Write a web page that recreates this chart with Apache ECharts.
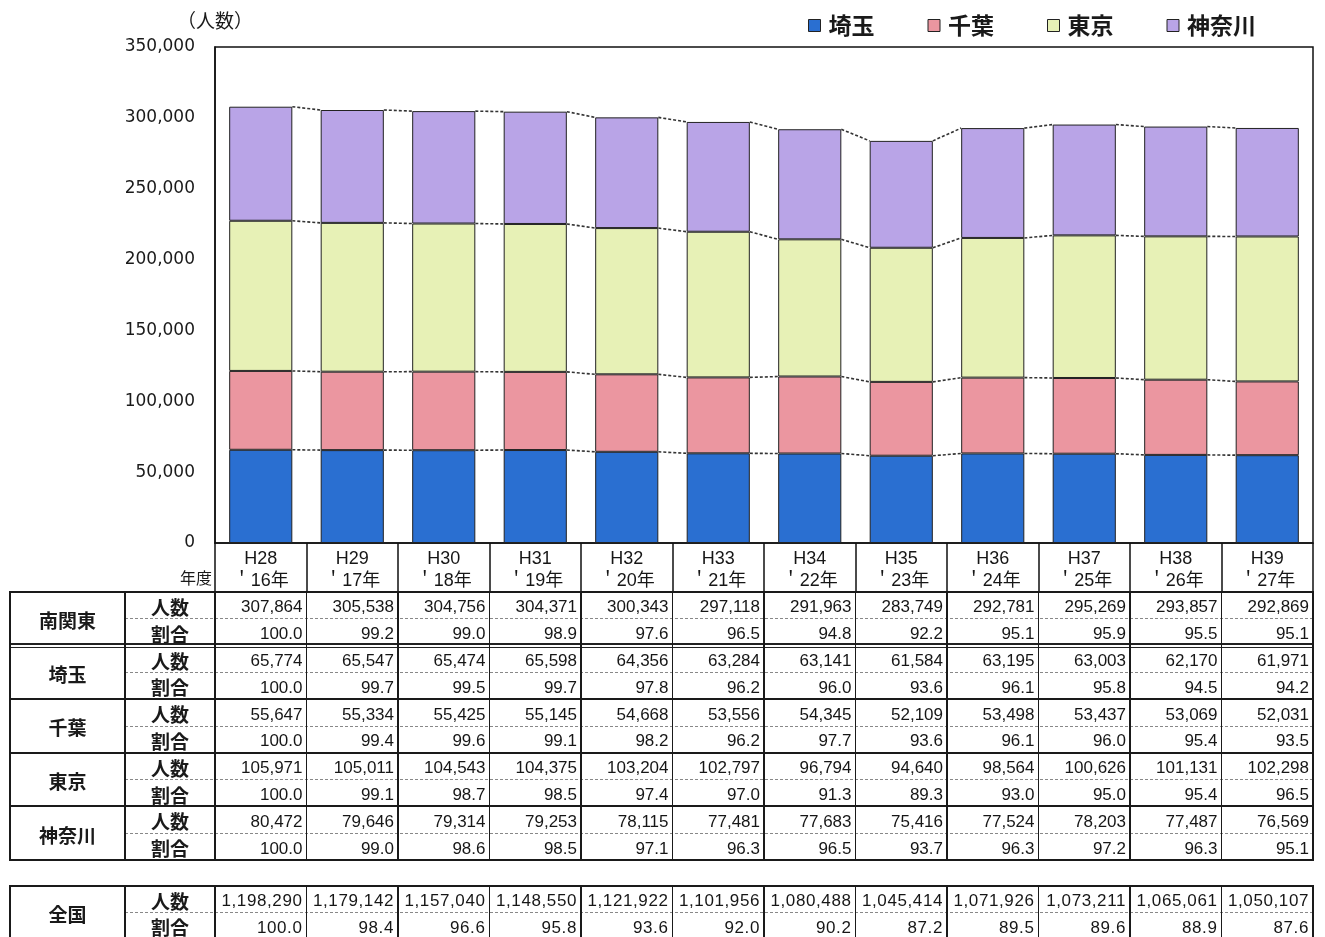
<!DOCTYPE html>
<html><head><meta charset="utf-8">
<script src="https://cdn.jsdelivr.net/npm/echarts@6/dist/echarts.min.js"></script>
<style>
html,body{margin:0;padding:0;background:#fff;width:1325px;height:937px;overflow:hidden;}
#chart{position:absolute;left:0;top:0;width:1325px;height:937px;}
#tbl{position:absolute;left:0;top:0;width:1325px;height:937px;pointer-events:none;}
.c{position:absolute;box-sizing:border-box;display:flex;align-items:center;font-family:"Liberation Sans",Arial,sans-serif;font-size:17px;color:#161616;white-space:nowrap;padding-top:4px;}
.n{justify-content:flex-end;padding-right:4px;}
.j{justify-content:center;font-family:"Noto Sans CJK JP";font-weight:bold;font-size:19px;color:#1a1a1a;padding-top:2px;}
.l{position:absolute;}
</style></head><body>
<div id="chart"></div><div id="tbl"></div>
<script>
// ---- data ----
const years = ['H28','H29','H30','H31','H32','H33','H34','H35','H36','H37','H38','H39'];
const westernYears = ['＇16年','＇17年','＇18年','＇19年','＇20年','＇21年','＇22年','＇23年','＇24年','＇25年','＇26年','＇27年'];
const seriesNames = ['埼玉','千葉','東京','神奈川'];
const saitama = [65774,65547,65474,65598,64356,63284,63141,61584,63195,63003,62170,61971];
const chiba = [55647,55334,55425,55145,54668,53556,54345,52109,53498,53437,53069,52031];
const tokyo = [105971,105011,104543,104375,103204,102797,96794,94640,98564,100626,101131,102298];
const kanagawa = [80472,79646,79314,79253,78115,77481,77683,75416,77524,78203,77487,76569];
const minamiKanto = [307864,305538,304756,304371,300343,297118,291963,283749,292781,295269,293857,292869];
const minamiKantoRatio = [100.0,99.2,99.0,98.9,97.6,96.5,94.8,92.2,95.1,95.9,95.5,95.1];
const saitamaRatio = [100.0,99.7,99.5,99.7,97.8,96.2,96.0,93.6,96.1,95.8,94.5,94.2];
const chibaRatio = [100.0,99.4,99.6,99.1,98.2,96.2,97.7,93.6,96.1,96.0,95.4,93.5];
const tokyoRatio = [100.0,99.1,98.7,98.5,97.4,97.0,91.3,89.3,93.0,95.0,95.4,96.5];
const kanagawaRatio = [100.0,99.0,98.6,98.5,97.1,96.3,96.5,93.7,96.3,97.2,96.3,95.1];
const zenkoku = [1198290,1179142,1157040,1148550,1121922,1101956,1080488,1045414,1071926,1073211,1065061,1050107];
const zenkokuRatio = [100.0,98.4,96.6,95.8,93.6,92.0,90.2,87.2,89.5,89.6,88.9,87.6];
const yTicks = [0,50000,100000,150000,200000,250000,300000,350000];
const rowLabels = ['人数','割合'];
const groupNames = ['南関東','埼玉','千葉','東京','神奈川'];
const colors = ['#2a6fd1','#eb96a0','#e7f1b6','#b9a4e7'];

const stackData = [saitama, chiba, tokyo, kanagawa];
// cumulative tops for series lines
const cum = stackData.map((_, k) => years.map((_, i) => stackData.slice(0, k + 1).reduce((s, a) => s + a[i], 0)));
const connData = [];
for (let i = 0; i < years.length - 1; i++) {
  const row = [i];
  for (let k = 0; k < 4; k++) { row.push(cum[k][i], cum[k][i + 1]); }
  connData.push(row);
}
const BAR_RATIO = 0.69;

const chart = echarts.init(document.getElementById('chart'), null, {renderer: 'canvas'});
const series = seriesNames.map((n, k) => ({
  name: n, type: 'bar', stack: 'all', data: stackData[k],
  barCategoryGap: '31%',
  itemStyle: {color: colors[k], borderColor: '#222', borderWidth: 1}
}));
series.push({
  type: 'custom', name: 'lines', silent: true, z: 5,
  data: connData, encode: {x: 0, y: 1},
  renderItem: function (params, api) {
    const i = api.value(0);
    const band = api.size([1, 0])[0];
    const half = band * BAR_RATIO / 2;
    const children = [];
    for (let k = 0; k < 4; k++) {
      const a = api.coord([i, api.value(1 + 2 * k)]);
      const b = api.coord([i + 1, api.value(2 + 2 * k)]);
      children.push({type: 'line', shape: {x1: a[0] + half, y1: a[1], x2: b[0] - half, y2: b[1]},
        style: {stroke: '#333', lineWidth: 1.6, lineDash: [3, 2]}});
    }
    return {type: 'group', children: children};
  }
});

chart.setOption({
  animation: false,
  backgroundColor: '#fff',
  legend: {
    data: seriesNames, left: 803, top: 9, icon: 'rect', itemWidth: 12, itemHeight: 12, itemGap: 53,
    itemStyle: {borderColor: '#222', borderWidth: 1},
    textStyle: {fontFamily: 'Noto Sans CJK JP', fontSize: 23, fontWeight: 'bold', color: '#1a1a1a', padding: [0, 0, 0, 3]}
  },
  grid: {left: 215, right: 12, top: 47, bottom: 394, show: true, borderColor: '#111', borderWidth: 1.5},
  xAxis: {
    type: 'category', data: years,
    axisLine: {lineStyle: {color: '#111', width: 1.5}},
    axisTick: {show: true, length: 49, interval: 0, lineStyle: {color: '#111', width: 1.5}},
    axisLabel: {
      interval: 0, margin: 5, fontSize: 18, lineHeight: 22, color: '#161616',
      fontFamily: 'Liberation Sans, Noto Sans CJK JP',
      formatter: (v, i) => v + '\n' + westernYears[i]
    }
  },
  yAxis: {
    type: 'value', min: yTicks[0], max: yTicks[yTicks.length - 1], interval: yTicks[1] - yTicks[0],
    name: '（人数）', nameLocation: 'end', nameGap: 17,
    nameTextStyle: {fontFamily: 'Noto Sans CJK JP', fontSize: 19, color: '#1a1a1a', align: 'center'},
    axisLine: {show: true, lineStyle: {color: '#111', width: 1.5}},
    axisTick: {show: false}, splitLine: {show: false},
    axisLabel: {margin: 20, fontFamily: 'DejaVu Sans', fontSize: 17, color: '#1a1a1a', padding: [6, 0, 0, 0],
      formatter: v => v.toLocaleString('en-US')}
  },
  series: series
});

// ---- table (HTML) ----
const tbl = document.getElementById('tbl');
const X0 = 10, XA = 125, XB = 215, XR = 1313;
const CW = (XR - XB) / years.length;
function line(x, y, w, h, color, extra) {
  const d = document.createElement('div'); d.className = 'l';
  d.style.left = x + 'px'; d.style.top = y + 'px'; d.style.width = w + 'px'; d.style.height = h + 'px';
  if (extra) { d.style.borderTop = extra; } else { d.style.background = color; }
  tbl.appendChild(d);
}
function cell(x, y, w, h, text, cls, style) {
  const d = document.createElement('div'); d.className = 'c ' + cls;
  d.style.left = x + 'px'; d.style.top = y + 'px'; d.style.width = w + 'px'; d.style.height = h + 'px';
  d.textContent = text; if (style) Object.assign(d.style, style); tbl.appendChild(d);
}
const fmtN = v => v.toLocaleString('en-US');
const fmtR = v => v.toFixed(1);

// header label
cell(150, 564, 62, 24, '年度', 'j', {justifyContent: 'flex-end', fontSize: '16px', fontWeight: 'normal'});

function section(top, rh, groups, numStyle) {
  const nRows = groups.length * 2;
  const bottom = top + nRows * rh;
  groups.forEach((g, gi) => {
    const gy = top + gi * 2 * rh;
    cell(X0, gy, XA - X0, 2 * rh, g.name, 'j');
    [g.num, g.ratio].forEach((arr, r) => {
      const ry = gy + r * rh;
      cell(XA, ry, XB - XA, rh, rowLabels[r], 'j');
      arr.forEach((v, i) => cell(XB + i * CW, ry, CW, rh, r === 0 ? fmtN(v) : fmtR(v), 'n', numStyle));
    });
    // dashed separator inside group
    line(XA, gy + rh - 0.5, XR - XA, 0, null, '1px dashed #888');
  });
  // horizontal borders
  for (let gi = 0; gi <= groups.length; gi++) {
    const y = top + gi * 2 * rh;
    if (gi === 1 && groups.length > 1) {
      line(X0, y - 2.5, XR - X0, 1.5, '#222'); line(X0, y + 1, XR - X0, 1.5, '#222');
    } else {
      line(X0, y - 1, XR - X0, 2, '#1a1a1a');
    }
  }
  // vertical borders
  const vx = [X0, XA, XB];
  for (let i = 1; i < years.length; i++) vx.push(XB + i * CW);
  vx.push(XR);
  vx.forEach((x, idx) => {
    const w = (idx === 0 || idx === vx.length - 1) ? 2 : 1.6;
    line(x - w / 2, top - 1, w, bottom - top + 2, '#1a1a1a');
  });
}
section(592, 26.8, [
  {name: groupNames[0], num: minamiKanto, ratio: minamiKantoRatio},
  {name: groupNames[1], num: saitama, ratio: saitamaRatio},
  {name: groupNames[2], num: chiba, ratio: chibaRatio},
  {name: groupNames[3], num: tokyo, ratio: tokyoRatio},
  {name: groupNames[4], num: kanagawa, ratio: kanagawaRatio}
]);
section(886, 26.5, [{name: '全国', num: zenkoku, ratio: zenkokuRatio}], {letterSpacing: '0.6px'});
</script>
</body></html>
